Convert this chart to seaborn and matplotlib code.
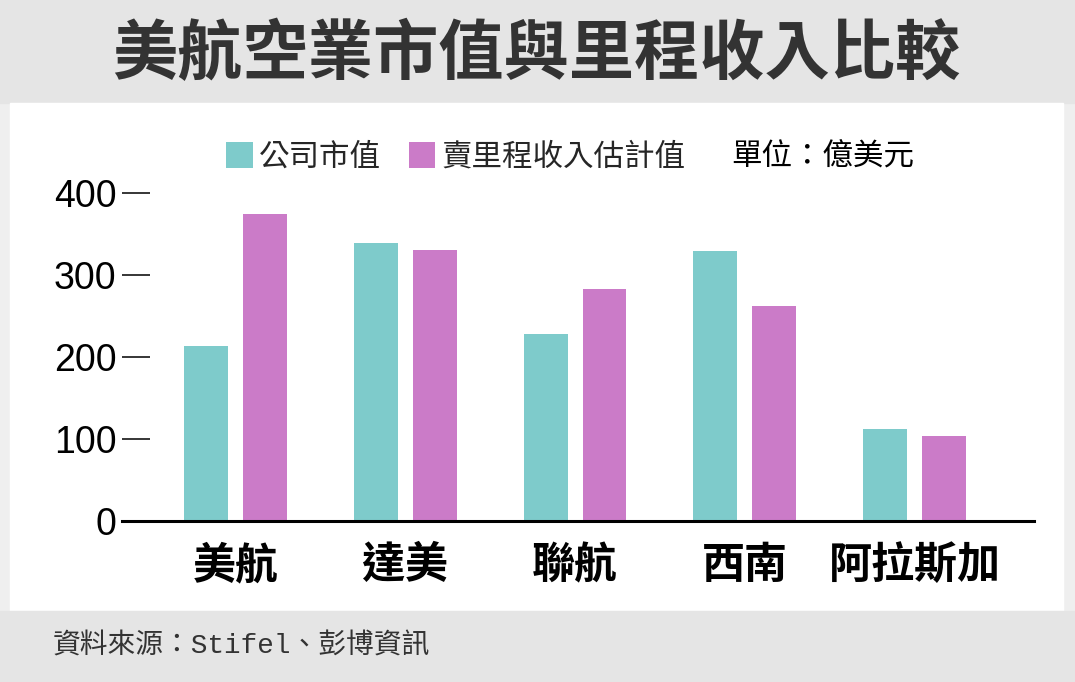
import pandas as pd
import numpy as np
import seaborn as sns
import matplotlib.pyplot as plt
from matplotlib.patches import Rectangle

# 資料
airlines = ["美航", "達美", "聯航", "西南", "阿拉斯加"]
market_cap = [213, 339, 228, 329, 112]
mileage_rev = [374, 330, 283, 262, 104]
series_names = ["公司市值", "賣里程收入估計值"]
y_ticks = [0, 100, 200, 300, 400]

df = pd.DataFrame({
    "airline": airlines * 2,
    "value": market_cap + mileage_rev,
    "series": [series_names[0]] * len(airlines) + [series_names[1]] * len(airlines),
})

sns.set_theme(style="white")
plt.rcParams["font.family"] = ["Noto Sans CJK TC", "DejaVu Sans"]

W, H = 1075, 682
fig = plt.figure(figsize=(W / 100, H / 100), dpi=100, facecolor="#efefef")

# 背景區塊
fig.patches.append(Rectangle((0, 1 - 103 / H), 1, 103 / H, transform=fig.transFigure,
                             color="#e5e5e5", zorder=-5))
fig.patches.append(Rectangle((10 / W, (H - 611) / H), (1063 - 10) / W, (611 - 103) / H,
                             transform=fig.transFigure, color="white", zorder=-5))
fig.patches.append(Rectangle((0, 0), 1, (H - 611) / H, transform=fig.transFigure,
                             color="#e5e5e5", zorder=-5))

ax = fig.add_axes([122 / W, (H - 521) / H, (1034 - 122) / W, (521 - 193) / H])
ax.patch.set_alpha(0)

sns.barplot(data=df, x="airline", y="value", hue="series",
            palette=["#7ecbcb", "#cb7bc8"], saturation=1, width=0.695, gap=0.255,
            linewidth=0, ax=ax)

ax.set_xlim(-0.669, 4.704)
ax.set_ylim(0, 400)
ax.set_yticks(y_ticks)
ax.set_yticklabels([str(t) for t in y_ticks], family="Liberation Sans", fontsize=27)
ax.set_xlabel("")
ax.set_ylabel("")
for s in ["top", "right", "left"]:
    ax.spines[s].set_visible(False)
ax.spines["bottom"].set_color("black")
ax.spines["bottom"].set_linewidth(2.2)
ax.tick_params(axis="y", direction="in", length=20, width=1.1, color="black",
               labelcolor="black", pad=4, left=True)
ax.tick_params(axis="x", length=0, pad=16, labelsize=31, labelcolor="black")
for lab in ax.get_xticklabels():
    lab.set_fontweight("bold")

sns.move_legend(ax, "center left", bbox_to_anchor=(226 / W, 1 - 157 / H),
                bbox_transform=fig.transFigure, ncol=2, frameon=False, title=None,
                fontsize=22, handlelength=0.88, handleheight=0.92,
                handletextpad=0.2, columnspacing=0.9, borderpad=0, borderaxespad=0)

fig.text(731 / W, 1 - 157 / H, "單位：億美元", fontsize=22, ha="left", va="center",
         color="black")

fig.text(536 / W, 1 - 55 / H, "美航空業市值與里程收入比較", fontsize=47,
         fontweight="bold", color="#333333", ha="center", va="center")

fig.text(53 / W, 1 - 647 / H, "資料來源：Stifel、彭博資訊", fontsize=20,
         family=["Liberation Mono", "Noto Sans CJK TC"],
         color="#333333", ha="left", va="center")

fig.savefig("out.png", dpi=100, facecolor=fig.get_facecolor())
